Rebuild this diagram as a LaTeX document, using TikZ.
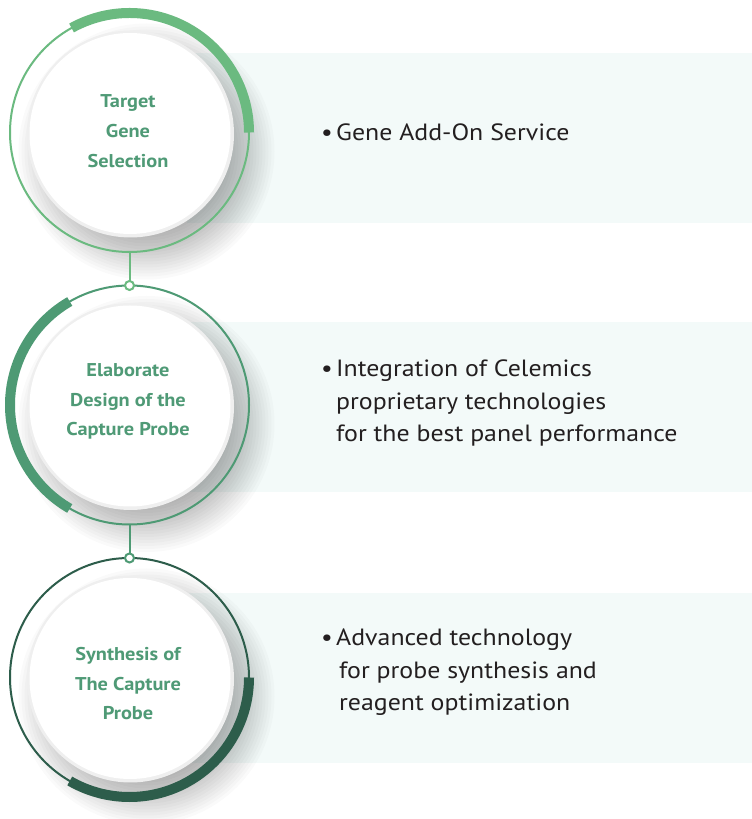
\documentclass[tikz,border=0pt]{standalone}
\usepackage{fontspec}
\setmainfont{PT Sans}[FakeStretch=1.1]
\usetikzlibrary{calc}

\definecolor{greenA}{HTML}{6BBA80}
\definecolor{greenB}{HTML}{4E9A74}
\definecolor{greenC}{HTML}{2D5D4B}
\definecolor{labelgreen}{HTML}{4F9A76}
\definecolor{ink}{HTML}{231F20}
\definecolor{panelbg}{HTML}{F3FAF9}
\definecolor{rim}{HTML}{EFEFEF}

% soft drop shadow behind a disc centred at coordinate #1
\newcommand\discshadow[1]{%
  \foreach \r in {80,83,...,128}
    \fill[black, opacity=0.018] ($(#1)+(17,-19)$) circle[radius=\r];%
}

\begin{document}
\begin{tikzpicture}[x=1pt, y=1pt,
  ring/.style={circle, draw=#1, line width=2, minimum size=239, inner sep=0, outer sep=0},
  band/.style={draw=#1, line width=10},
  rimdisc/.style={circle, fill=rim, minimum size=207, inner sep=0, outer sep=0},
  facedisc/.style={circle, fill=white, minimum size=201, inner sep=0, outer sep=0},
  knot/.style={circle, draw=#1, fill=white, line width=2, minimum size=9, inner sep=0, outer sep=0},
  link/.style={draw=#1, line width=2},
  steplabel/.style={text=labelgreen, font=\bfseries\fontsize{18.5}{22}\selectfont, anchor=base, inner sep=0},
  item/.style={text=ink, font=\fontsize{23.5}{28}\selectfont, anchor=base west, inner sep=0},
]
\useasboundingbox (0,0) rectangle (752,819);
\fill[white] (0,0) rectangle (752,819);

% description panels
\fill[panelbg] (187,596) rectangle (752,766);
\fill[panelbg] (187,327) rectangle (752,497);
\fill[panelbg] (187,56) rectangle (752,226);

% step centres
\coordinate (c1) at (129.5,686.5);
\coordinate (c2) at (129.5,414);
\coordinate (c3) at (129.5,141.5);

% shadows
\discshadow{c1}
\discshadow{c2}
\discshadow{c3}

% outer rings
\node[ring=greenA] (r1) at (c1) {};
\node[ring=greenB] (r2) at (c2) {};
\node[ring=greenC] (r3) at (c3) {};

% progress bands
\draw[band=greenA] (r1.0) arc[start angle=0, end angle=119, radius=119.5];
\draw[band=greenB] (r2.120) arc[start angle=120, end angle=240, radius=119.5];
\draw[band=greenC] (r3.0) arc[start angle=0, end angle=-120, radius=119.5];

% inner discs
\node[rimdisc] (e1) at ($(c1)+(1,-1.5)$) {};
\node[facedisc] (f1) at ($(c1)+(0.5,-1)$) {};
\node[rimdisc] (e2) at ($(c2)+(1,-1.5)$) {};
\node[facedisc] (f2) at ($(c2)+(0.5,-1)$) {};
\node[rimdisc] (e3) at ($(c3)+(1,-1.5)$) {};
\node[facedisc] (f3) at ($(c3)+(0.5,-1)$) {};

% connectors
\draw[link=greenA] (r1.south) -- (r2.north);
\draw[link=greenB] (r2.south) -- (r3.north);
\node[knot=greenA] (k1) at (r2.north) {};
\node[knot=greenB] (k2) at (r3.north) {};

% step labels
\node[steplabel] (s1a) at (128,711) {Target};
\node[steplabel] (s1b) at (128,681) {Gene};
\node[steplabel] (s1c) at (128,651) {Selection};

\node[steplabel] (s2a) at (128,442) {Elaborate};
\node[steplabel] (s2b) at (128,412.5) {Design of the};
\node[steplabel] (s2c) at (128,383) {Capture Probe};

\node[steplabel] (s3a) at (128,158) {Synthesis of};
\node[steplabel] (s3b) at (128,128.5) {The Capture};
\node[steplabel] (s3c) at (128,99) {Probe};

% descriptions
\node[item] (p1) at (321,678.3) {•};
\node[item] (t1a) at (336,678.3) {Gene Add-On Service};

\node[item] (p2) at (321,442.3) {•};
\node[item] (t2a) at (336,442.3) {Integration of Celemics};
\node[item] (t2b) at (336,409) {proprietary technologies};
\node[item] (t2c) at (336,377) {for the best panel performance};

\node[item] (p3) at (321,173.3) {•};
\node[item] (t3a) at (336,173.3) {Advanced technology};
\node[item] (t3b) at (339,140.7) {for probe synthesis and};
\node[item] (t3c) at (339,108.3) {reagent optimization};
\end{tikzpicture}
\end{document}
